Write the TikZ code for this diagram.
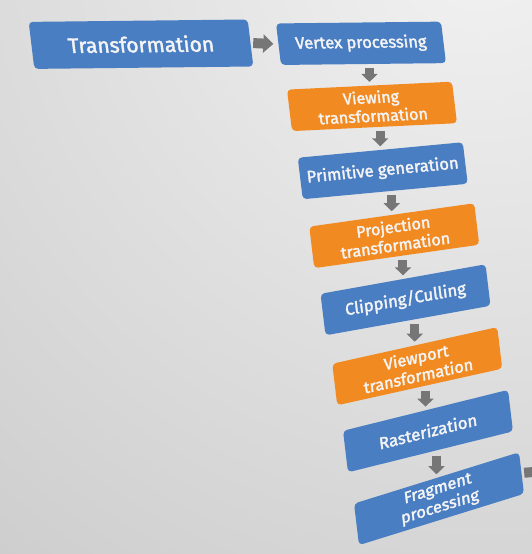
\documentclass[tikz,border=0pt]{standalone}
\usepackage{fontspec}
\setmainfont{Fira Sans}
\newfontfamily\boxfont{Fira Sans}[FakeBold=2]
\usetikzlibrary{arrows.meta}
\definecolor{boxblue}{HTML}{4A7EC3}
\definecolor{boxorange}{HTML}{F28A22}
\definecolor{boxtext}{HTML}{F4F4F4}
\definecolor{arrowgray}{HTML}{767676}
\definecolor{bgA}{HTML}{F2F2F2}
\definecolor{bgB}{HTML}{C6C6C6}
\definecolor{bgC}{HTML}{AAAAAA}
\definecolor{bgD}{HTML}{969696}
\definecolor{bgE}{HTML}{888888}
\pgfdeclareradialshading{bgshade}{\pgfpoint{0bp}{0bp}}{%
  color(0bp)=(bgA); color(24bp)=(bgB); color(31bp)=(bgC);
  color(39bp)=(bgD); color(50bp)=(bgE)}
\tikzset{
  box/.style={rounded corners=4pt, minimum width=165pt, minimum height=41.5pt,
    inner sep=0pt, text=boxtext, align=center,
    font=\boxfont\fontsize{16.5}{19}\selectfont},
  twoline/.style={font=\boxfont\fontsize{16}{18.5}\selectfont},
  persp/.style={cm={1,#1,-0.12,1,(0,0)}},
  bluebox/.style={box, fill=boxblue},
  orangebox/.style={box, fill=boxorange, twoline},
  dnarrow/.style={draw=arrowgray, line width=9pt,
    -{Triangle[width=16pt,length=8pt]}, shorten <=3.5pt, shorten >=3.5pt},
  rtarrow/.style={draw=arrowgray, line width=10pt,
    -{Triangle[width=18pt,length=10pt]}, shorten <=2.5pt, shorten >=5pt}
}
\begin{document}
\begin{tikzpicture}[x=1pt,y=1pt]
  \useasboundingbox (0,0) rectangle (532,554);
  \clip (0,0) rectangle (532,554);
  \shade[shading=bgshade] (480,620) circle (1000pt);

  \node[bluebox, persp=0.011, minimum width=219pt, minimum height=47pt,
        font=\boxfont\fontsize{21}{23}\selectfont] (tr) at (141,509.8) {Transformation};
  \node[bluebox, persp=0.011] (vp) at (361,510.7) {Vertex processing};
  \node[orangebox, persp=0.048] (vt) at (372,447.6) {Viewing\\transformation};
  \node[bluebox, persp=0.094] (pg) at (382.75,383.25) {Primitive generation};
  \node[orangebox, persp=0.142] (pt) at (394.25,318.3) {Projection\\transformation};
  \node[bluebox, persp=0.179] (cc) at (405.5,254.2) {Clipping/Culling};
  \node[orangebox, persp=0.222] (wt) at (417.25,187.8) {Viewport\\transformation};
  \node[bluebox, persp=0.248] (rs) at (428,122.9) {Rasterization};
  \node[bluebox, twoline, persp=0.311] (fp) at (439,55.3) {Fragment\\processing};
  \coordinate (off) at (570,85);

  \draw[rtarrow] (tr.east) -- (vp.west);
  \draw[dnarrow] (vp.south -| vt.north) -- (vt.north);
  \draw[dnarrow] (vt.south -| pg.north) -- (pg.north);
  \draw[dnarrow] (pg.south -| pt.north) -- (pt.north);
  \draw[dnarrow] (pt.south -| cc.north) -- (cc.north);
  \draw[dnarrow] (cc.south -| wt.north) -- (wt.north);
  \draw[dnarrow] (wt.south -| rs.north) -- (rs.north);
  \draw[dnarrow] (rs.south -| fp.north) -- (fp.north);
  \draw[rtarrow] (fp.east) -- (off);
\end{tikzpicture}
\end{document}
